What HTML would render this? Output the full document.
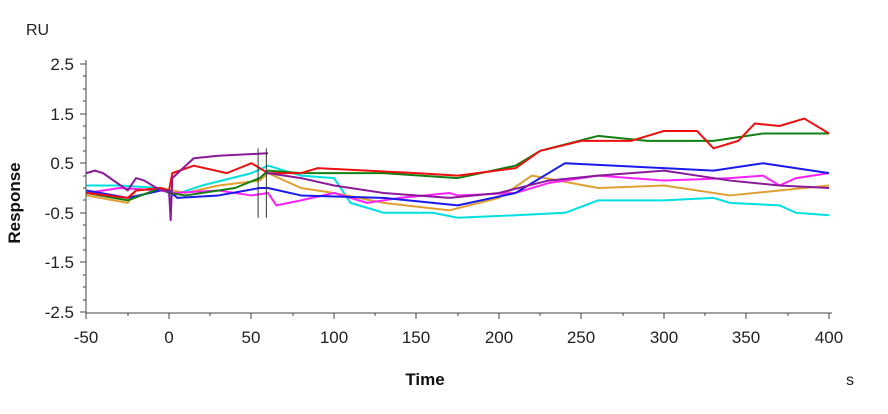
<!DOCTYPE html>
<html><head><meta charset="utf-8"><style>
body{margin:0;background:#fff}
svg{display:block;font-family:"Liberation Sans",sans-serif}
</style></head><body>
<svg width="888" height="414" viewBox="0 0 888 414">
<rect width="888" height="414" fill="#fff"/>
<text x="26" y="35" font-size="16" fill="#222">RU</text>
<g stroke="#444" stroke-width="1">
<line x1="86" y1="60" x2="86" y2="313"/>
<line x1="86" y1="313" x2="832" y2="313"/>
<path d="M80 64H86M80 114H86M80 163H86M80 213H86M80 262H86M80 312H86
M83 76H86M83 89H86M83 101H86M83 126H86M83 138H86M83 151H86M83 176H86M83 188H86M83 200H86M83 225H86M83 238H86M83 250H86M83 275H86M83 287H86M83 300H86"/>
<path d="M86 313V319M169 313V319M251 313V319M334 313V319M416 313V319M499 313V319M581 313V319M664 313V319M746 313V319M829 313V319
M128 313V316M210 313V316M293 313V316M375 313V316M458 313V316M540 313V316M623 313V316M705 313V316M788 313V316"/>
</g>
<g font-size="17" fill="#222" text-anchor="end">
<text x="74" y="70">2.5</text><text x="74" y="120">1.5</text><text x="74" y="169">0.5</text>
<text x="74" y="219">-0.5</text><text x="74" y="268">-1.5</text><text x="74" y="318">-2.5</text>
</g>
<g font-size="17" fill="#222" text-anchor="middle">
<text x="86" y="343">-50</text><text x="169" y="343">0</text><text x="251" y="343">50</text><text x="334" y="343">100</text><text x="416" y="343">150</text><text x="499" y="343">200</text><text x="581" y="343">250</text><text x="664" y="343">300</text><text x="746" y="343">350</text><text x="829" y="343">400</text>
</g>
<text x="425" y="385" font-size="17" font-weight="bold" text-anchor="middle" fill="#111">Time</text>
<text x="846" y="385" font-size="16" fill="#222">s</text>
<text transform="translate(20,203) rotate(-90)" font-size="17" font-weight="bold" text-anchor="middle" fill="#111">Response</text>
<g transform="matrix(1.65 0 0 -49.6 169 188)" fill="none" stroke-width="2" stroke-linejoin="round">
<polyline vector-effect="non-scaling-stroke" stroke="#00e0e0" points="-50,0.05 -30,0.05 -5,0 2,-0.15 20,0.05 50,0.3 60,0.45 80,0.25 100,0.2 110,-0.3 130,-0.5 160,-0.5 175,-0.6 210,-0.55 240,-0.5 260,-0.25 300,-0.25 330,-0.2 340,-0.3 370,-0.35 380,-0.5 400,-0.55"/>
<polyline vector-effect="non-scaling-stroke" stroke="#e0a030" points="-50,-0.15 -25,-0.3 -20,-0.05 -5,0 2,-0.05 10,-0.1 30,0.05 55,0.15 60,0.3 80,0 100,-0.1 130,-0.3 170,-0.45 200,-0.2 220,0.25 260,0 300,0.05 340,-0.15 370,-0.05 400,0.05"/>
<polyline vector-effect="non-scaling-stroke" stroke="#ff20ff" points="-50,-0.1 -30,0 -5,-0.05 2,-0.1 30,-0.05 50,-0.15 60,-0.1 65,-0.35 80,-0.25 100,-0.1 120,-0.3 140,-0.2 170,-0.1 175,-0.15 210,-0.1 230,0.1 260,0.25 300,0.15 340,0.2 360,0.25 370,0.05 380,0.2 400,0.3"/>
<polyline vector-effect="non-scaling-stroke" stroke="#1a1aee" points="-50,-0.05 -25,-0.2 -5,-0.05 0,-0.05 5,-0.2 30,-0.15 55,0 60,0 80,-0.15 130,-0.2 175,-0.35 210,-0.1 240,0.5 300,0.4 330,0.35 360,0.5 400,0.3"/>
<polyline vector-effect="non-scaling-stroke" stroke="#108010" points="-50,-0.1 -25,-0.25 -5,0 0,-0.1 10,-0.15 40,0 55,0.2 60,0.35 80,0.3 130,0.3 175,0.2 210,0.45 225,0.75 260,1.05 290,0.95 330,0.95 360,1.1 400,1.1"/>
<polyline vector-effect="non-scaling-stroke" stroke="#ee1010" points="-50,-0.1 -25,-0.2 -20,-0.05 -5,0 0,-0.05 2,0.3 15,0.45 35,0.3 50,0.5 60,0.3 80,0.3 90,0.4 150,0.3 175,0.25 210,0.4 225,0.75 250,0.95 280,0.95 300,1.15 320,1.15 330,0.8 345,0.95 355,1.3 370,1.25 385,1.4 400,1.1"/>
<polyline vector-effect="non-scaling-stroke" stroke="#8a1a9a" points="-50,0.3 -45,0.35 -40,0.3 -25,-0.05 -20,0.2 -15,0.15 -5,-0.05 0,-0.05 1,-0.65 2,0.2 15,0.6 30,0.65 60,0.7"/>
<polyline vector-effect="non-scaling-stroke" stroke="#8a1a9a" points="60,0.3 80,0.2 100,0.05 130,-0.1 170,-0.2 200,-0.1 230,0.15 260,0.25 300,0.35 340,0.15 370,0.05 400,0"/>
<path vector-effect="non-scaling-stroke" stroke="#333" stroke-width="1" d="M54,0.8V-0.6M59,0.8V-0.6"/>
</g>
</svg>
</body></html>
